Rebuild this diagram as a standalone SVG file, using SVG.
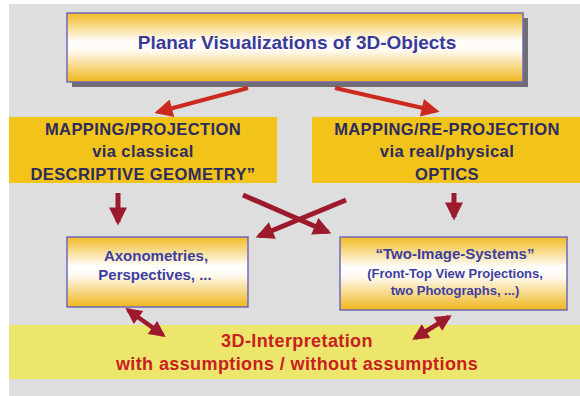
<svg xmlns="http://www.w3.org/2000/svg" width="580" height="396" viewBox="0 0 580 396">
  <defs>
    <linearGradient id="goldFade" x1="0" y1="0" x2="0" y2="1">
      <stop offset="0" stop-color="#f1bb24"/>
      <stop offset="0.42" stop-color="#ffffff"/>
      <stop offset="0.55" stop-color="#fffaf0"/>
      <stop offset="1" stop-color="#efb61c"/>
    </linearGradient>
    <marker id="headRed" viewBox="0 0 10 10" refX="8" refY="5" markerWidth="5" markerHeight="4.5" orient="auto" markerUnits="strokeWidth">
      <path d="M0,0 L10,5 L0,10 Z" fill="#cc2a1e"/>
    </marker>
    <marker id="headDark" viewBox="0 0 10 10" refX="8" refY="5" markerWidth="4" markerHeight="3.6" orient="auto-start-reverse" markerUnits="strokeWidth">
      <path d="M0,0 L10,5 L0,10 Z" fill="#9c1a2c"/>
    </marker>
    <style>
      .frame { fill: url(#goldFade); stroke: #7068b8; stroke-width: 1.5; }
      .shadow { fill: #6e6e74; }
      .band { fill: #f2c319; }
      .t { font-family: "Liberation Sans", Arial, sans-serif; font-weight: bold; text-anchor: middle; }
      .title { font-size: 19px; fill: #3a3a98; }
      .map { font-size: 16.5px; fill: #2c2c5e; letter-spacing: 0.4px; }
      .box { font-size: 15px; fill: #3e3ea0; }
      .boxs { font-size: 13px; fill: #3e3ea0; }
      .interp { font-size: 18px; fill: #c8201e; letter-spacing: 0.4px; }
      .red { stroke: #cc2a1e; stroke-width: 4; fill: none; marker-end: url(#headRed); }
      .dark { stroke: #9c1a2c; stroke-width: 5; fill: none; marker-end: url(#headDark); }
      .both { stroke: #9c1a2c; stroke-width: 4.5; fill: none; marker-start: url(#headDark); marker-end: url(#headDark); }
    </style>
  </defs>

  <!-- canvas -->
  <rect x="9" y="4" width="571" height="392" fill="#dedede"/>
  <rect x="9" y="325" width="571" height="54" fill="#ede66c"/>

  <!-- top node -->
  <g id="planar">
    <rect class="shadow" x="72" y="18" width="456" height="69"/>
    <rect class="frame" x="67" y="13" width="456" height="69"/>
    <text class="t title" x="297" y="49">Planar Visualizations of 3D-Objects</text>
  </g>

  <!-- mapping nodes -->
  <g id="mapping-projection">
    <rect class="band" x="9" y="117" width="268" height="66"/>
    <text class="t map" x="143" y="135">MAPPING/PROJECTION</text>
    <text class="t map" x="143" y="157">via classical</text>
    <text class="t map" x="143" y="180">DESCRIPTIVE GEOMETRY”</text>
  </g>
  <g id="mapping-reprojection">
    <rect class="band" x="312" y="117" width="268" height="66"/>
    <text class="t map" x="447" y="135">MAPPING/RE-PROJECTION</text>
    <text class="t map" x="447" y="157">via real/physical</text>
    <text class="t map" x="447" y="180">OPTICS</text>
  </g>

  <!-- result nodes -->
  <g id="axonometries">
    <rect class="frame" x="67" y="237" width="181" height="70"/>
    <text class="t box" x="156" y="261">Axonometries,</text>
    <text class="t box" x="155" y="280">Perspectives, ...</text>
  </g>
  <g id="two-image-systems">
    <rect class="frame" x="340" y="237" width="227" height="73"/>
    <text class="t box" x="455" y="259">“Two-Image-Systems”</text>
    <text class="t boxs" x="455" y="278">(Front-Top View Projections,</text>
    <text class="t boxs" x="455" y="295">two Photographs, ...)</text>
  </g>

  <!-- interpretation node -->
  <g id="interpretation">
    <text class="t interp" x="297" y="347">3D-Interpretation</text>
    <text class="t interp" x="297" y="370">with assumptions / without assumptions</text>
  </g>

  <!-- connectors -->
  <g id="connectors">
    <line class="red" x1="248" y1="88" x2="158" y2="112"/>
    <line class="red" x1="335" y1="88" x2="436" y2="111"/>
    <line class="dark" x1="118" y1="193" x2="118" y2="222"/>
    <line class="dark" x1="454" y1="193" x2="454" y2="217"/>
    <line class="dark" x1="243" y1="195" x2="328" y2="232"/>
    <line class="dark" x1="346" y1="200" x2="259" y2="236"/>
    <line class="both" x1="128" y1="310" x2="163" y2="335"/>
    <line class="both" x1="449" y1="317" x2="415" y2="338"/>
  </g>
</svg>
